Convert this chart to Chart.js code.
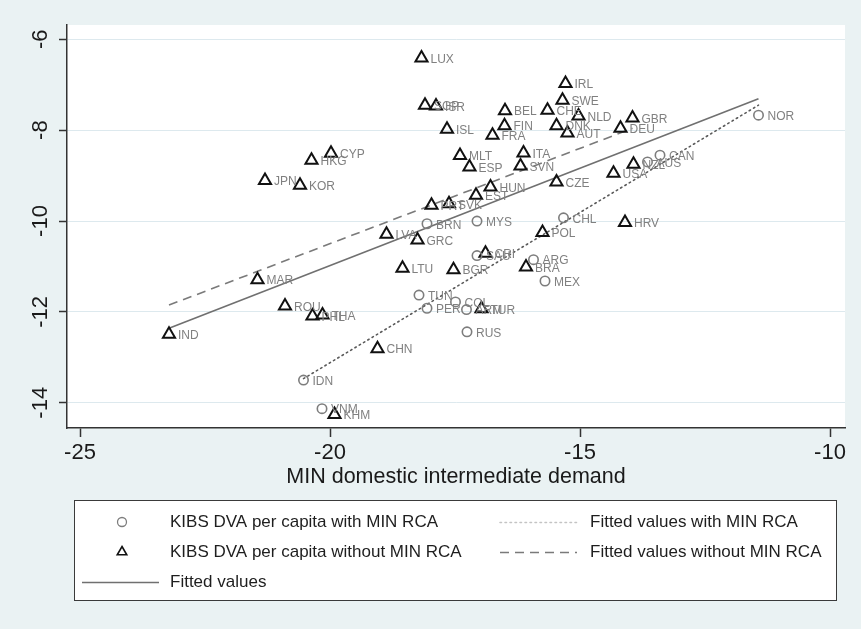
<!DOCTYPE html>
<html>
<head>
<meta charset="utf-8">
<script src="https://cdn.jsdelivr.net/npm/chart.js@4.4.0/dist/chart.umd.min.js"></script>
<style>
    html, body { margin: 0; padding: 0; background: #eaf2f3; }
    #wrap { width: 861px; height: 629px; }
</style>
</head>
<body>
<div id="wrap"><canvas id="chart" width="861" height="629"></canvas></div>
<script>
// countries with MIN RCA (circles)
var withCodes = ['NOR', 'CAN', 'AUS', 'CHL', 'MYS', 'BRN', 'SAU', 'ARG', 'MEX', 'TUN', 'COL', 'PER', 'ARM', 'RUS', 'IDN', 'VNM'];
var withX = [-11.43, -13.40, -13.65, -15.33, -17.06, -18.06, -17.06, -15.93, -15.70, -18.22, -17.49, -18.06, -17.27, -17.26, -20.53, -20.16];
var withY = [-7.67, -8.55, -8.70, -9.93, -10.00, -10.06, -10.76, -10.85, -11.32, -11.63, -11.78, -11.92, -11.95, -12.44, -13.50, -14.13];

// countries without MIN RCA (triangles)
var withoutCodes = ['LUX', 'SGP', 'ISR', 'IRL', 'SWE', 'BEL', 'CHE', 'NLD', 'GBR', 'FIN', 'DNK', 'AUT', 'DEU', 'ISL', 'FRA',
    'CYP', 'HKG', 'MLT', 'ESP', 'ITA', 'SVN', 'JPN', 'KOR', 'CZE', 'USA', 'NZL', 'HUN', 'EST', 'PRT', 'SVK',
    'HRV', 'POL', 'LVA', 'GRC', 'CRI', 'BRA', 'LTU', 'BGR', 'MAR', 'ROU', 'PHL', 'THA', 'TUR', 'IND', 'CHN', 'KHM'];
var withoutX = [-18.17, -18.10, -17.88, -15.29, -15.35, -16.50, -15.65, -15.03, -13.95, -16.51, -15.47, -15.25, -14.19, -17.66, -16.75,
    -19.98, -20.37, -17.40, -17.21, -16.13, -16.19, -21.30, -20.60, -15.47, -14.33, -13.93, -16.79, -17.08, -17.97, -17.62,
    -14.10, -15.75, -18.87, -18.25, -16.89, -16.08, -18.55, -17.53, -21.45, -20.90, -20.35, -20.15, -16.97, -23.22, -19.05, -19.91];
var withoutY = [-6.41, -7.45, -7.47, -6.97, -7.34, -7.57, -7.56, -7.69, -7.73, -7.90, -7.90, -8.06, -7.96, -7.98, -8.11,
    -8.51, -8.66, -8.56, -8.81, -8.50, -8.79, -9.11, -9.21, -9.14, -8.95, -8.75, -9.25, -9.43, -9.65, -9.62,
    -10.03, -10.25, -10.29, -10.42, -10.71, -11.01, -11.04, -11.07, -11.29, -11.87, -12.09, -12.07, -11.93, -12.49, -12.81, -14.26];

// fitted lines (end points)
var fitWithX = [-20.53, -11.43];
var fitWithY = [-13.47, -7.45];
var fitWithoutX = [-23.22, -13.95];
var fitWithoutY = [-11.85, -7.96];
var fitAllX = [-23.22, -11.43];
var fitAllY = [-12.36, -7.31];

var xTicks = [-25, -20, -15, -10];
var yTicks = [-14, -12, -10, -8, -6];

var FONT = "'Liberation Sans', Arial, Helvetica, sans-serif";

function pts(xs, ys) {
    return xs.map(function (x, i) { return { x: x, y: ys[i] }; });
}

// white plot region on the light blue-gray graph region
var backgroundPlugin = {
    id: 'bg',
    beforeDraw: function (chart) {
        var ctx = chart.ctx, a = chart.chartArea;
        ctx.save();
        ctx.fillStyle = '#eaf2f3';
        ctx.fillRect(0, 0, chart.width, chart.height);
        ctx.fillStyle = '#ffffff';
        ctx.fillRect(a.left, a.top, a.right - a.left, a.bottom - a.top);
        ctx.restore();
    }
};

// country codes next to markers
var pointLabelPlugin = {
    id: 'pointLabels',
    afterDatasetsDraw: function (chart) {
        var ctx = chart.ctx;
        ctx.save();
        ctx.font = '12px ' + FONT;
        ctx.fillStyle = '#808080';
        ctx.textBaseline = 'middle';
        chart.data.datasets.forEach(function (ds, i) {
            if (!ds.codes) return;
            chart.getDatasetMeta(i).data.forEach(function (el, j) {
                ctx.fillText(ds.codes[j], el.x + 9, el.y + 1.5);
            });
        });
        ctx.restore();
    }
};

// stata-like legend box below the axis title
var legendPlugin = {
    id: 'boxLegend',
    afterDraw: function (chart) {
        var ctx = chart.ctx;
        var ds = chart.data.datasets;
        var rows = [522, 552, 582];
        var items = [
            { d: ds[0], col: 0, row: 0 },
            { d: ds[2], col: 1, row: 0 },
            { d: ds[1], col: 0, row: 1 },
            { d: ds[3], col: 1, row: 1 },
            { d: ds[4], col: 0, row: 2 }
        ];
        ctx.save();
        ctx.fillStyle = '#ffffff';
        ctx.fillRect(74, 500, 762, 100);
        ctx.strokeStyle = '#3a3a3a';
        ctx.lineWidth = 1;
        ctx.strokeRect(74.5, 500.5, 762, 100);

        ctx.font = '17px ' + FONT;
        ctx.textBaseline = 'middle';
        items.forEach(function (it) {
            var y = rows[it.row];
            var x0 = it.col === 0 ? 82 : 500;
            var tx = it.col === 0 ? 170 : 590;
            var d = it.d;
            ctx.save();
            if (d.showLine) {
                ctx.strokeStyle = d.legendColor || d.borderColor;
                ctx.lineWidth = d.borderWidth;
                ctx.lineCap = d.borderCapStyle || 'butt';
                ctx.setLineDash(d.borderDash || []);
                ctx.beginPath();
                ctx.moveTo(x0, y + 0.5);
                ctx.lineTo(x0 + 77, y + 0.5);
                ctx.stroke();
            } else {
                // hollow symbol, like the markers
                ctx.fillStyle = 'rgba(0,0,0,0)';
                ctx.strokeStyle = d.borderColor;
                ctx.lineWidth = d.borderWidth * 0.8;
                Chart.helpers.drawPoint(ctx, {
                    pointStyle: d.pointStyle,
                    radius: d.pointStyle === 'triangle' ? 5.5 : 4.5,
                    rotation: 0,
                    borderWidth: d.borderWidth * 0.8
                }, 122, y);
            }
            ctx.restore();
            ctx.fillStyle = '#1e1e1e';
            ctx.fillText(d.label, tx, y);
        });
        ctx.restore();
    }
};

var chart = new Chart(document.getElementById('chart'), {
    type: 'scatter',
    data: {
        datasets: [
            {
                label: 'KIBS DVA per capita with MIN RCA',
                data: pts(withX, withY),
                codes: withCodes,
                pointStyle: 'circle',
                pointRadius: 4.7,
                borderColor: '#7d7d7d',
                backgroundColor: 'rgba(0,0,0,0)',
                borderWidth: 1.6
            },
            {
                label: 'KIBS DVA per capita without MIN RCA',
                data: pts(withoutX, withoutY),
                codes: withoutCodes,
                pointStyle: 'triangle',
                pointRadius: 7,
                borderColor: '#111111',
                backgroundColor: 'rgba(0,0,0,0)',
                borderWidth: 2
            },
            {
                label: 'Fitted values with MIN RCA',
                data: pts(fitWithX, fitWithY),
                showLine: true,
                pointRadius: 0,
                borderColor: '#5a5a5a',
                legendColor: '#c4c4c4',
                borderWidth: 1.6,
                borderDash: [1.5, 3.5],
                borderCapStyle: 'round'
            },
            {
                label: 'Fitted values without MIN RCA',
                data: pts(fitWithoutX, fitWithoutY),
                showLine: true,
                pointRadius: 0,
                borderColor: '#7a7a7a',
                borderWidth: 1.6,
                borderDash: [9, 6]
            },
            {
                label: 'Fitted values',
                data: pts(fitAllX, fitAllY),
                showLine: true,
                pointRadius: 0,
                borderColor: '#707070',
                borderWidth: 1.6
            }
        ]
    },
    options: {
        responsive: false,
        animation: false,
        devicePixelRatio: 1,
        events: [],
        layout: {
            padding: { left: 0, top: 25, right: 16, bottom: 0 }
        },
        plugins: {
            legend: { display: false },
            tooltip: { enabled: false }
        },
        scales: {
            x: {
                type: 'linear',
                min: -25.26,
                max: -9.70,
                afterBuildTicks: function (s) {
                    s.ticks = xTicks.map(function (v) { return { value: v }; });
                },
                afterFit: function (s) { s.height = 201; },
                border: { color: '#333333', width: 1.5 },
                grid: { drawOnChartArea: false, tickLength: 9, tickColor: '#333333', tickWidth: 1.5 },
                ticks: {
                    padding: 3,
                    color: '#1a1a1a',
                    font: { family: FONT, size: 22 },
                    callback: function (v) { return String(v); }
                },
                title: {
                    display: true,
                    text: 'MIN domestic intermediate demand',
                    color: '#1a1a1a',
                    font: { family: FONT, size: 21.5 },
                    padding: { top: 4, bottom: 139 }
                }
            },
            y: {
                type: 'linear',
                min: -14.556,
                max: -5.685,
                afterBuildTicks: function (s) {
                    s.ticks = yTicks.map(function (v) { return { value: v }; });
                },
                afterFit: function (s) { s.width = 67; },
                border: { color: '#333333', width: 1.5 },
                grid: { color: '#dde9ee', lineWidth: 1, tickLength: 8, tickColor: '#333333', tickWidth: 1.5 },
                ticks: {
                    padding: 2,
                    minRotation: 90,
                    maxRotation: 90,
                    crossAlign: 'center',
                    color: '#1a1a1a',
                    font: { family: FONT, size: 22 },
                    callback: function (v) { return String(v); }
                }
            }
        }
    },
    plugins: [backgroundPlugin, pointLabelPlugin, legendPlugin]
});
</script>
</body>
</html>
